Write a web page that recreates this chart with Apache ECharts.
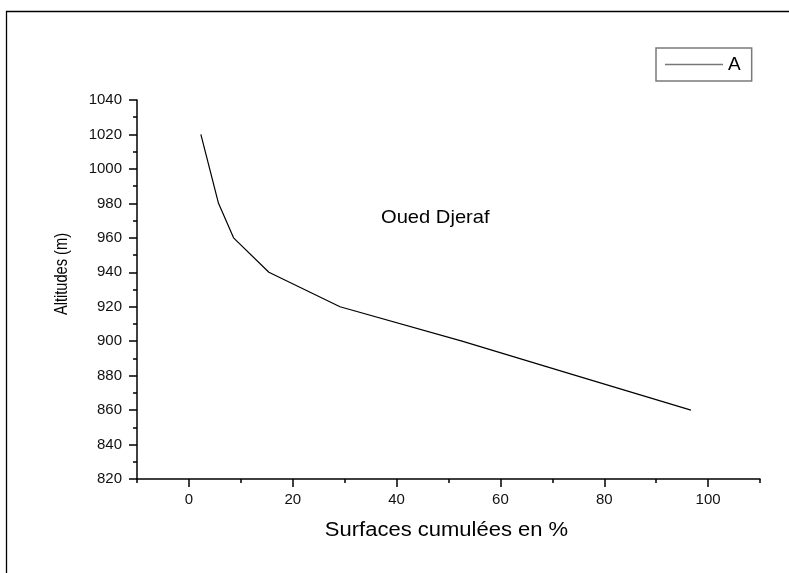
<!DOCTYPE html>
<html>
<head>
<meta charset="utf-8">
<script src="https://cdn.jsdelivr.net/npm/echarts@6/dist/echarts.min.js"></script>
<style>html,body{margin:0;padding:0;background:#fff}#c{width:789px;height:573px}</style>
</head>
<body>
<div id="c"></div>
<script>
var seriesName = 'A';
var surfaces = [2.3, 5.7, 8.6, 15.4, 29.1, 52.6, 74.6, 96.7];
var altitudes = [1020, 980, 960, 940, 920, 900, 880, 860];
var xMajorTicks = [0, 20, 40, 60, 80, 100];
var xMinorTicks = [-10, 10, 30, 50, 70, 90, 110];
var xTitle = 'Surfaces cumulées en %';
var yTitle = 'Altitudes (m)';
var annotation = 'Oued Djeraf';

var data = surfaces.map(function (x, i) { return [x, altitudes[i]]; });
var font = 'Liberation Sans, Arial, sans-serif';

var chart = echarts.init(document.getElementById('c'), null, { renderer: 'canvas' });
chart.setOption({
  animation: false,
  backgroundColor: '#fff',
  grid: { left: 137, right: 29, top: 100, bottom: 94, containLabel: false },
  legend: {
    show: true,
    left: 656, top: 48,
    orient: 'horizontal',
    padding: [7, 11, 7, 9],
    borderColor: '#7a7a7a', borderWidth: 1.5,
    itemWidth: 58, itemHeight: 1.5, itemGap: 6,
    textStyle: { fontFamily: font, fontSize: 19, color: '#000' },
    itemStyle: { color: '#777', borderWidth: 0 },
    data: [{ name: seriesName, icon: 'rect' }]
  },
  xAxis: [{
    type: 'value', min: -10, max: 110,
    axisLine: { show: true, onZero: false, lineStyle: { color: '#000', width: 1.5 } },
    axisTick: { show: true, length: 8, customValues: xMajorTicks, lineStyle: { color: '#000', width: 1.5 } },
    axisLabel: { customValues: xMajorTicks, margin: 13, fontFamily: font, fontSize: 15, color: '#111' },
    splitLine: { show: false }
  }, {
    type: 'value', min: -10, max: 110, position: 'bottom',
    axisLine: { show: false, onZero: false },
    axisTick: { show: true, length: 4, customValues: xMinorTicks, lineStyle: { color: '#000', width: 1.5 } },
    axisLabel: { show: false },
    splitLine: { show: false }
  }],
  yAxis: {
    type: 'value', min: 820, max: 1040, interval: 20,
    axisLine: { show: true, onZero: false, lineStyle: { color: '#000', width: 1.5 } },
    axisTick: { show: true, length: 8, lineStyle: { color: '#000', width: 1.5 } },
    minorTick: { show: true, splitNumber: 2, length: 4, lineStyle: { color: '#000', width: 1.5 } },
    axisLabel: { margin: 15, fontFamily: font, fontSize: 15, color: '#111',
      formatter: function (v) { return String(v); } },
    splitLine: { show: false }
  },
  series: [{
    name: seriesName, type: 'line', xAxisIndex: 0,
    data: data, symbol: 'none',
    lineStyle: { color: '#000', width: 1.2 },
    itemStyle: { color: '#000' }
  }],
  graphic: [
    { type: 'polyline', silent: true, shape: { points: [[789, 11.5], [6.5, 11.5], [6.5, 573]] },
      style: { stroke: '#000', lineWidth: 1.3, fill: null } },
    { type: 'text', x: 381, y: 218, scaleX: 1.06, silent: true,
      style: { text: annotation, font: '19px ' + font, fill: '#000', verticalAlign: 'middle' } },
    { type: 'text', x: 446.5, y: 530, scaleX: 1.1, silent: true,
      style: { text: xTitle, font: '20px ' + font, fill: '#000', align: 'center', verticalAlign: 'middle' } },
    { type: 'text', x: 62, y: 274, rotation: Math.PI / 2, scaleX: 0.77, silent: true,
      style: { text: yTitle, font: '19px ' + font, fill: '#000', align: 'center', verticalAlign: 'middle' } }
  ]
});
</script>
</body>
</html>
